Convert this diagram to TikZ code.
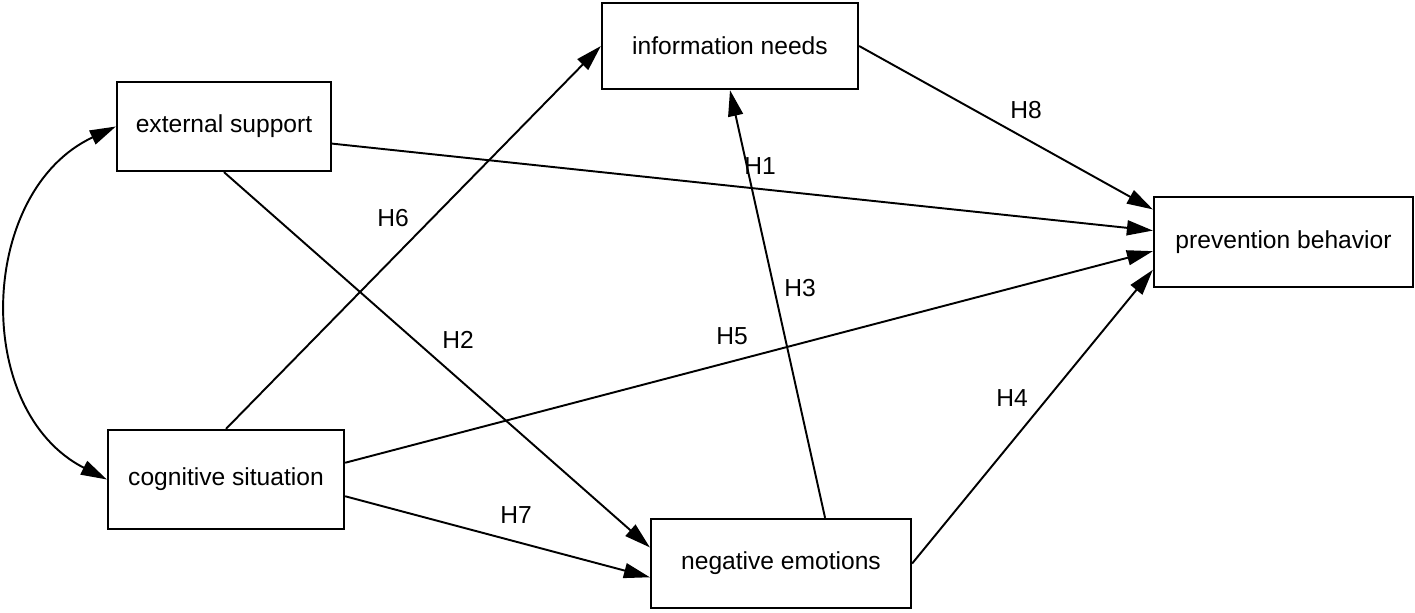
\documentclass[tikz,border=0pt]{standalone}
\usepackage{fontspec}
\setmainfont{Liberation Sans}
\usetikzlibrary{arrows.meta}

\begin{document}
\begin{tikzpicture}[x=0.02cm, y=-0.02cm, >={Triangle[length=5.2mm, width=3mm]},
        boxnode/.style={rectangle, draw=black, line width=1.3pt, inner sep=0pt, minimum height=1.78cm, font=\fontsize{14}{17}\selectfont},
        pathline/.style={->, line width=1.1pt},
        hlabel/.style={font=\fontsize{14}{17}\selectfont}]

        \useasboundingbox (0,0) rectangle (1415,612);

        \node[boxnode, minimum width=4.28cm] (ext) at (224,126.5) {external support};
        \node[boxnode, minimum width=4.72cm, minimum height=1.98cm] (cog) at (226,479.5) {cognitive situation};
        \node[boxnode, minimum width=5.12cm, minimum height=1.72cm] (info) at (730,46) {information needs};
        \node[boxnode, minimum width=5.2cm] (neg) at (781,563.5) {negative emotions};
        \node[boxnode, minimum width=5.18cm, minimum height=1.8cm] (prev) at (1283.5,242) {prevention behavior};

        \draw[pathline] (ext.351.8) -- (prev.175.6);
        \draw[pathline] (ext.south) -- (neg.173.2);
        \draw[pathline] (neg.46) -- (info.south);
        \draw[pathline] (neg.east) -- (prev.192.2);
        \draw[pathline] (cog.8) -- (prev.184.4);
        \draw[pathline] (cog.north) -- (info.west);
        \draw[pathline] (cog.-8.4) -- (neg.186.4);
        \draw[pathline] (info.east) -- (prev.166.1);
        \draw[<->, line width=1.1pt] (ext.west) to[out=205, in=153, looseness=1.1] (cog.west);

        \node[hlabel] (h1) at (760,166) {H1};
        \node[hlabel] (h2) at (458,340) {H2};
        \node[hlabel] (h3) at (800,288) {H3};
        \node[hlabel] (h4) at (1012,398) {H4};
        \node[hlabel] (h5) at (732,336) {H5};
        \node[hlabel] (h6) at (393,218) {H6};
        \node[hlabel] (h7) at (516,515) {H7};
        \node[hlabel] (h8) at (1026,110) {H8};

\end{tikzpicture}
\end{document}
